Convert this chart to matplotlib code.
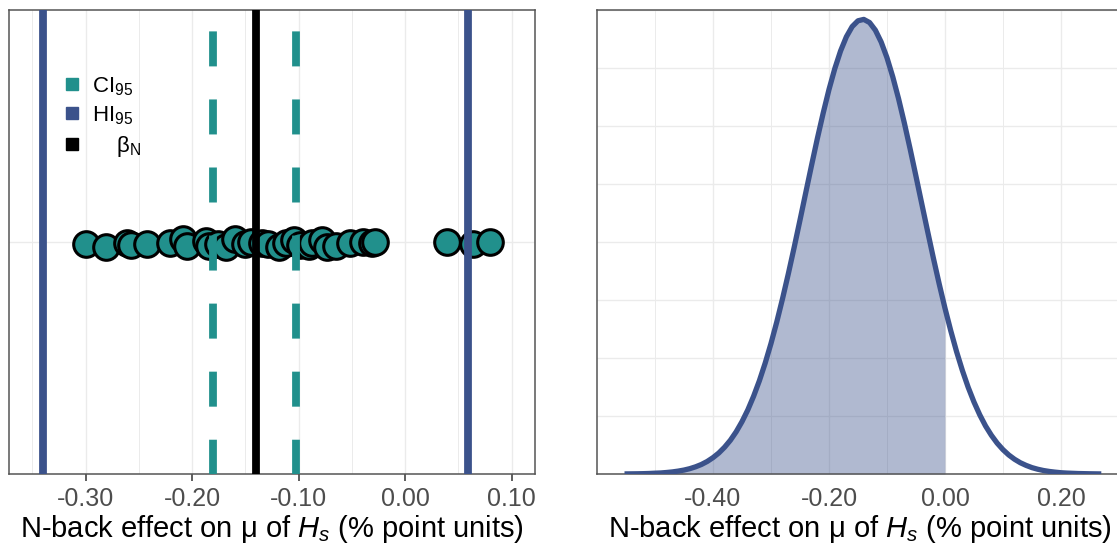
import numpy as np
import matplotlib
matplotlib.use("Agg")
import matplotlib.pyplot as plt
from matplotlib.patches import Patch
from matplotlib.ticker import FixedLocator, MultipleLocator, FormatStrFormatter

# Fonts (Arial-like) and mathtext for subscripts / italic H_s
plt.rcParams['font.family'] = ['Liberation Sans', 'DejaVu Sans']
plt.rcParams['mathtext.fontset'] = 'custom'
plt.rcParams['mathtext.rm'] = 'Liberation Sans'
plt.rcParams['mathtext.it'] = 'Liberation Sans:italic'
plt.rcParams['axes.unicode_minus'] = False

# Per-participant N-back effects (left panel), small vertical jitter
effect_x = [-0.300, -0.281, -0.261, -0.257, -0.242, -0.221, -0.209, -0.205, -0.187, -0.184,
            -0.176, -0.168, -0.160, -0.150, -0.145, -0.134, -0.129, -0.118, -0.112, -0.104,
            -0.099, -0.090, -0.087, -0.078, -0.073, -0.065, -0.052, -0.040, -0.031, -0.028,
            0.039, 0.064, 0.080]
effect_y = [-0.009, -0.022, -0.004, -0.013, -0.009, -0.004, 0.013, -0.017, 0.004, -0.017,
            -0.009, -0.022, 0.013, -0.009, 0.0, -0.004, -0.009, -0.022, -0.004, 0.009,
            -0.013, -0.017, -0.004, 0.009, -0.022, -0.017, -0.004, 0.0, -0.004, 0.0,
            0.0, -0.009, 0.0]

# Interval limits and group effect
ci95 = [-0.180, -0.102]
hi95 = [-0.340, 0.059]
beta_n = -0.140

# Posterior density (right panel)
dens_x = [-0.548, -0.53, -0.52, -0.51, -0.50, -0.49, -0.48, -0.47, -0.46, -0.45,
          -0.44, -0.43, -0.42, -0.41, -0.40, -0.39, -0.38, -0.37, -0.36, -0.35,
          -0.34, -0.33, -0.32, -0.31, -0.30, -0.29, -0.28, -0.27, -0.26, -0.25,
          -0.24, -0.23, -0.22, -0.21, -0.20, -0.19, -0.18, -0.17, -0.16, -0.15,
          -0.14, -0.13, -0.12, -0.11, -0.10, -0.09, -0.08, -0.07, -0.06, -0.05,
          -0.04, -0.03, -0.02, -0.01, 0.00, 0.01, 0.02, 0.03, 0.04, 0.05,
          0.06, 0.07, 0.08, 0.09, 0.10, 0.11, 0.12, 0.13, 0.14, 0.15,
          0.16, 0.17, 0.18, 0.19, 0.20, 0.21, 0.22, 0.23, 0.24, 0.25, 0.265]
dens_y = [0.001, 0.002, 0.003, 0.0045, 0.007, 0.009, 0.013, 0.018, 0.025, 0.034,
          0.046, 0.062, 0.082, 0.108, 0.141, 0.181, 0.231, 0.291, 0.364, 0.451,
          0.552, 0.670, 0.804, 0.956, 1.125, 1.311, 1.513, 1.728, 1.954, 2.188,
          2.426, 2.662, 2.893, 3.111, 3.314, 3.494, 3.647, 3.769, 3.857, 3.907,
          3.919, 3.892, 3.826, 3.724, 3.589, 3.424, 3.235, 3.025, 2.801, 2.567,
          2.330, 2.094, 1.862, 1.640, 1.430, 1.235, 1.055, 0.893, 0.748, 0.621,
          0.510, 0.414, 0.334, 0.266, 0.210, 0.164, 0.127, 0.097, 0.074, 0.055,
          0.041, 0.030, 0.022, 0.016, 0.011, 0.008, 0.006, 0.004, 0.003, 0.002, 0.001]

teal = '#21908C'
blue = '#3B528B'
grid_col = '#EBEBEB'
xlabel = 'N-back effect on μ of $H_s$ (% point units)'

fig = plt.figure(figsize=(11.17, 5.48), dpi=100)
W, H = 1117, 548
ax1 = fig.add_axes([9 / W, 74 / H, 526 / W, 464 / H])
ax2 = fig.add_axes([597 / W, 74 / H, 526 / W, 464 / H])  # right edge runs past the figure


def style_axes(ax):
    ax.set_axisbelow(True)
    for sp in ax.spines.values():
        sp.set_color('#555555')
        sp.set_linewidth(1.1)
    ax.grid(True, which='major', color=grid_col, lw=1.0)
    ax.grid(True, which='minor', color=grid_col, lw=0.7)
    ax.tick_params(axis='y', which='both', length=0, labelleft=False)
    ax.tick_params(axis='x', which='minor', length=0)
    ax.tick_params(axis='x', which='major', labelsize=18, labelcolor='#4D4D4D',
                   color='#333333', width=1.1, length=5, pad=4)
    ax.set_xlabel(xlabel, fontsize=21, labelpad=2)


# Left panel: individual effects with intervals
ax1.scatter(effect_x, effect_y, s=340, c=teal, edgecolors='black', linewidths=2.2, zorder=2)
for x in ci95:
    ax1.plot([x, x], [1, -1], color=teal, lw=5.6, linestyle=(6.0, (4.5, 4.25)), zorder=3)
for x in hi95:
    ax1.axvline(x, color=blue, lw=5.6, zorder=3)
ax1.axvline(beta_n, color='black', lw=5.6, zorder=3)

ax1.set_xlim(-0.372, 0.122)
ax1.set_ylim(-1, 1)
ax1.xaxis.set_major_locator(MultipleLocator(0.1))
ax1.xaxis.set_minor_locator(MultipleLocator(0.05))
ax1.xaxis.set_major_formatter(FormatStrFormatter('%.2f'))
ax1.yaxis.set_major_locator(FixedLocator([0]))
ax1.yaxis.set_minor_locator(FixedLocator([]))
style_axes(ax1)

handles = [Patch(color=teal), Patch(color=blue), Patch(color='black')]
labels = ['CI$_{95}$', 'HI$_{95}$', '    β$_{\\mathrm{N}}$']
ax1.legend(handles, labels, loc='upper left', bbox_to_anchor=(66 / W, 1 - 75 / H),
           bbox_transform=fig.transFigure, frameon=False, fontsize=16,
           handlelength=0.55, handleheight=0.45, handletextpad=0.6,
           labelspacing=0.3, borderpad=0, borderaxespad=0)

# Right panel: posterior density, area below zero shaded
dx = np.array(dens_x)
ax2.fill_between(dens_x, dens_y, where=dx <= 0, color=blue, alpha=0.4, lw=0, zorder=2)
ax2.plot(dens_x, dens_y, color=blue, lw=3.8, zorder=3, solid_joinstyle='round')

ax2.set_xlim(-0.60, 0.307)
ax2.set_ylim(0, 4)
ax2.xaxis.set_major_locator(FixedLocator([-0.4, -0.2, 0.0, 0.2]))
ax2.xaxis.set_minor_locator(FixedLocator([-0.5, -0.3, -0.1, 0.1, 0.3]))
ax2.xaxis.set_major_formatter(FormatStrFormatter('%.2f'))
ax2.yaxis.set_major_locator(MultipleLocator(0.5))
style_axes(ax2)
ax2.tick_params(axis='x', which='major', length=0, pad=9)

fig.savefig('out.png', dpi=100)
